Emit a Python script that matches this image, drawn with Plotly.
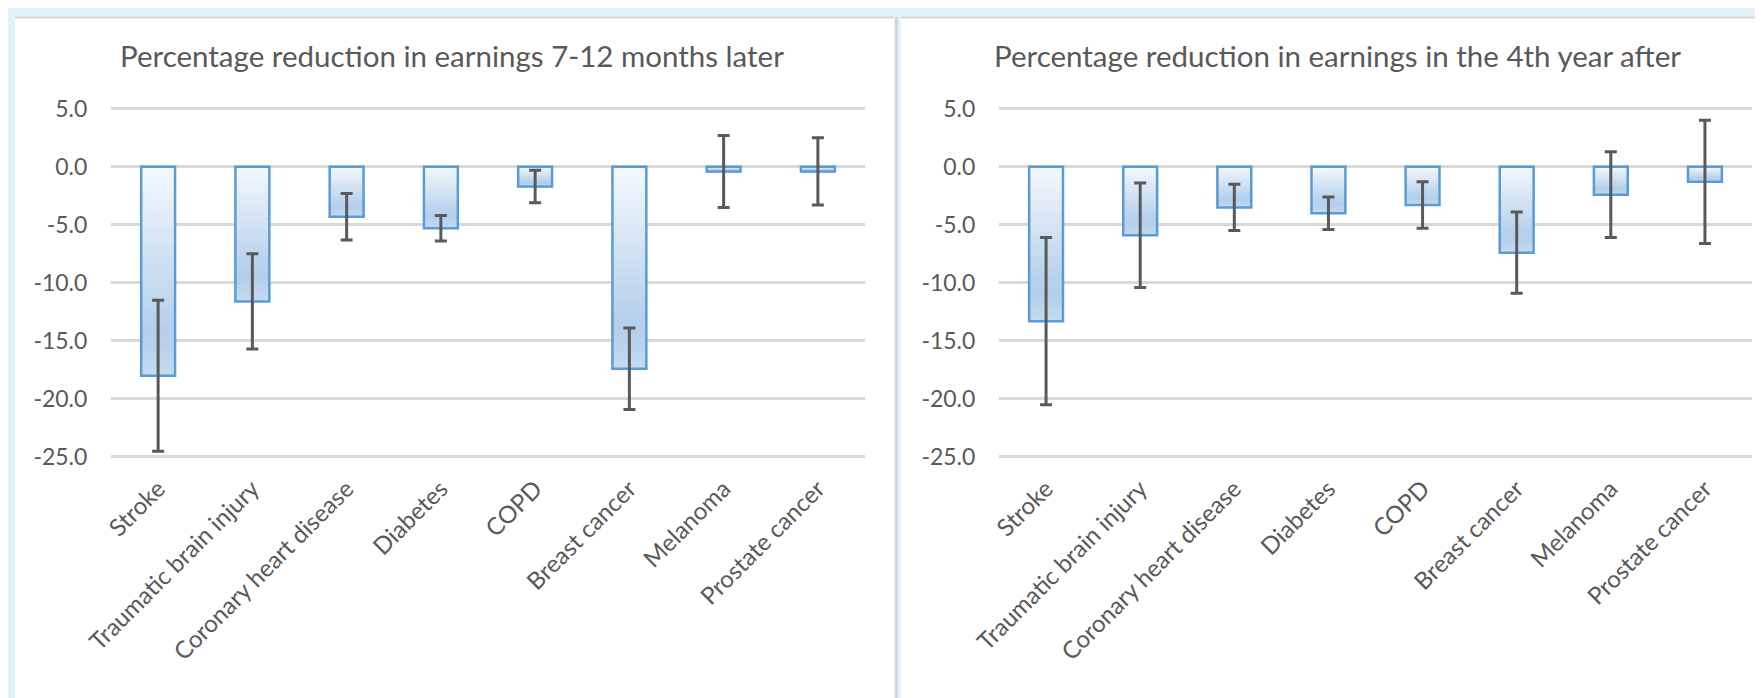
import plotly.graph_objects as go

# ---------------- data ----------------
categories = ["Stroke", "Traumatic brain injury", "Coronary heart disease", "Diabetes",
              "COPD", "Breast cancer", "Melanoma", "Prostate cancer"]
early_values = [-18.0, -11.6, -4.3, -5.3, -1.7, -17.4, -0.4, -0.4]
early_errors = [6.5, 4.1, 2.0, 1.1, 1.4, 3.5, 3.1, 2.9]
late_values = [-13.3, -5.9, -3.5, -4.0, -3.3, -7.4, -2.4, -1.3]
late_errors = [7.2, 4.5, 2.0, 1.4, 2.0, 3.5, 3.7, 5.3]
y_tick_values = [5, 0, -5, -10, -15, -20, -25]
y_tick_labels = ["5.0", "0.0", "-5.0", "-10.0", "-15.0", "-20.0", "-25.0"]
title_left = "Percentage reduction in earnings 7-12 months later"
title_right = "Percentage reduction in earnings in the 4th year after"

# ---------------- style ----------------
W, H = 1763, 698
FONT = "Lato"
TEXT = "#595959"
GRID = "#D9D9D9"
OUTLINE = "#5B9BD5"
BAR_W = 0.36
N_LAYERS = 24
stops = [(0.0, (244, 248, 253)), (0.8, (178, 206, 235)), (1.0, (196, 218, 241))]


def grad_color(t):
    for (t0, c0), (t1, c1) in zip(stops[:-1], stops[1:]):
        if t <= t1:
            f = (t - t0) / (t1 - t0)
            return "rgb(%d,%d,%d)" % tuple(round(a + (b - a) * f) for a, b in zip(c0, c1))
    return "rgb(%d,%d,%d)" % stops[-1][1]


def px_x(p):
    return p / W


def px_y(p):
    return 1 - p / H


fig = go.Figure()

for values, errors, xa, ya in [(early_values, early_errors, "x", "y"),
                               (late_values, late_errors, "x2", "y2")]:
    # gradient fill (overlay layers that each run to the bar end)
    for k in range(N_LAYERS):
        f = k / N_LAYERS
        fig.add_trace(go.Bar(
            x=categories, y=[v * (1 - f) for v in values], base=[v * f for v in values],
            width=BAR_W, marker=dict(color=grad_color((k + 0.5) / N_LAYERS), line=dict(width=0)),
            xaxis=xa, yaxis=ya, showlegend=False, hoverinfo="skip"))
    # outline + error bars
    fig.add_trace(go.Bar(
        x=categories, y=values, width=BAR_W,
        marker=dict(color="rgba(0,0,0,0)", line=dict(color=OUTLINE, width=2.5)),
        error_y=dict(type="data", array=errors, visible=True, color="#595959",
                     thickness=3, width=6),
        xaxis=xa, yaxis=ya, showlegend=False))

yr = [-25.2, 5.2]
ydom = [px_y(451.3), px_y(98.4)]
common_x = dict(type="category", showgrid=False, showline=False, zeroline=False,
                automargin=False,
                ticks="outside", ticklen=5, tickcolor="rgba(0,0,0,0)", tickangle=-45,
                tickfont=dict(family=FONT, size=24, color=TEXT))
common_y = dict(range=yr, domain=ydom, tickvals=y_tick_values, ticktext=y_tick_labels,
                automargin=False,
                showgrid=True, gridcolor=GRID, gridwidth=2.5, zeroline=True,
                zerolinecolor=GRID, zerolinewidth=2.5, showline=False,
                ticks="outside", ticklen=18, tickcolor="rgba(0,0,0,0)",
                tickfont=dict(family=FONT, size=23, color=TEXT))

fig.update_layout(
    template="none",
    width=W, height=H, margin=dict(l=0, r=0, t=0, b=0, pad=0), autosize=False,
    paper_bgcolor="#E1F2FA", plot_bgcolor="rgba(0,0,0,0)",
    barmode="overlay", showlegend=False,
    xaxis=dict(domain=[px_x(103), px_x(857)], anchor="y", **common_x),
    yaxis=dict(anchor="x", **common_y),
    xaxis2=dict(domain=[px_x(991), px_x(1744)], anchor="y2", **common_x),
    yaxis2=dict(anchor="x2", **common_y),
    shapes=[
        dict(type="rect", xref="paper", yref="paper", layer="below",
             x0=px_x(7), x1=px_x(886), y0=-0.01, y1=px_y(10), fillcolor="white", line=dict(width=0)),
        dict(type="rect", xref="paper", yref="paper", layer="below",
             x0=px_x(893), x1=1.01, y0=-0.01, y1=px_y(10), fillcolor="white", line=dict(width=0)),
        dict(type="line", xref="paper", yref="paper", layer="below",
             x0=px_x(7), x1=px_x(886), y0=px_y(9.5), y1=px_y(9.5), line=dict(color="#D3D7DB", width=2)),
        dict(type="line", xref="paper", yref="paper", layer="below",
             x0=px_x(893), x1=1.01, y0=px_y(9.5), y1=px_y(9.5), line=dict(color="#D3D7DB", width=2)),
        dict(type="line", xref="paper", yref="paper", layer="below",
             x0=px_x(888.5), x1=px_x(888.5), y0=-0.01, y1=px_y(9), line=dict(color="#D3D7DB", width=3)),
    ],
    annotations=[
        dict(text=title_left, xref="paper", yref="paper", x=px_x(444), y=px_y(48),
             xanchor="center", yanchor="middle", showarrow=False,
             font=dict(family=FONT, size=29.5, color=TEXT)),
        dict(text=title_right, xref="paper", yref="paper", x=px_x(1329), y=px_y(48),
             xanchor="center", yanchor="middle", showarrow=False,
             font=dict(family=FONT, size=29.5, color=TEXT)),
    ],
)

fig.write_html("out.html")
